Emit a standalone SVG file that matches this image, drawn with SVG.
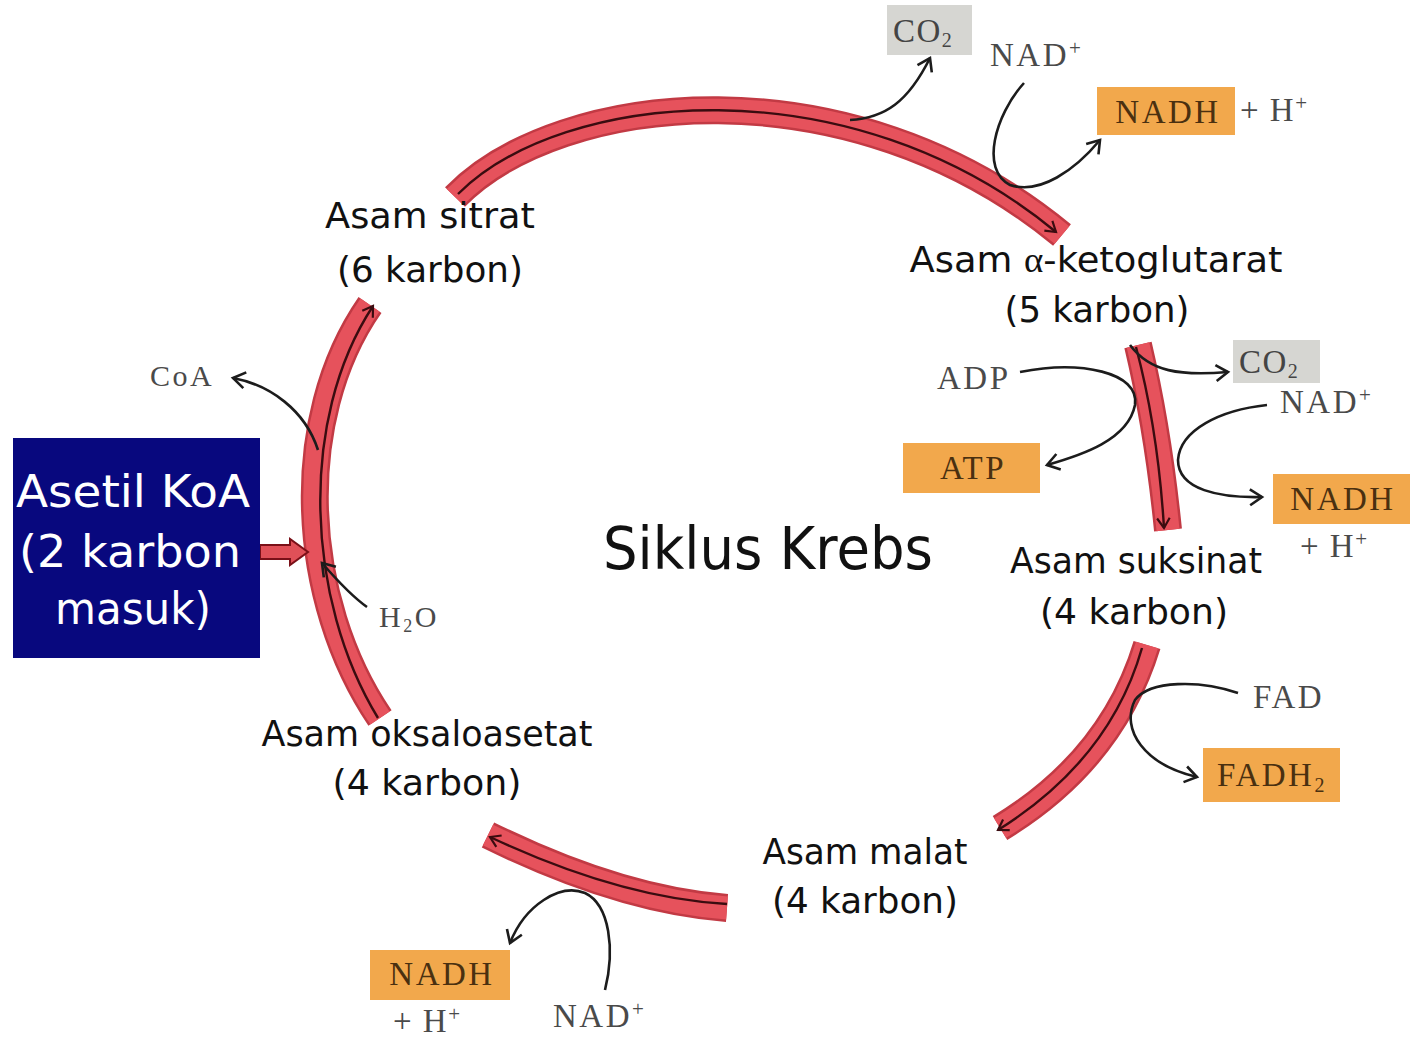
<svg xmlns="http://www.w3.org/2000/svg" width="1412" height="1040" viewBox="0 0 1412 1040">
<style>
.lbl{font-family:"DejaVu Sans","Open Sans",sans-serif;font-size:35px;fill:#111;text-anchor:middle}
.ser{font-family:"Liberation Serif","DejaVu Serif",serif;font-size:33px;fill:#4a4a4a;letter-spacing:2.5px}
.box{font-family:"Liberation Serif","DejaVu Serif",serif;font-size:33px;fill:#4a3010;text-anchor:middle;letter-spacing:2.5px}
.or{fill:#f2a84c}
.gr{fill:#d6d6d2}
.rxn{fill:none;stroke:#1c1c1c;stroke-width:2.6;marker-end:url(#ah)}
.bandO{fill:none;stroke:#c23a44;stroke-width:28}
.bandI{fill:none;stroke:#e6525c;stroke-width:23}
.core{fill:none;stroke:#3a0c10;stroke-width:2.4;marker-end:url(#ah2)}
</style>
<defs>
<marker id="ah" viewBox="0 0 20 20" refX="17" refY="10" markerWidth="20" markerHeight="20" markerUnits="userSpaceOnUse" orient="auto">
<path d="M5,2 L17,10 L5,18" fill="none" stroke="#1c1c1c" stroke-width="2.6"/>
</marker>
<marker id="ah2" viewBox="0 0 20 20" refX="17" refY="10" markerWidth="18" markerHeight="18" markerUnits="userSpaceOnUse" orient="auto">
<path d="M6,3 L17,10 L6,17" fill="none" stroke="#3a0c10" stroke-width="2.4"/>
</marker>
</defs>
<rect width="1412" height="1040" fill="#ffffff"/>

<g id="connectors">
  <g id="ring">
    <path class="bandO" d="M455 197 C560 90 850 60 1062 235"/>
    <path class="bandI" d="M455 197 C560 90 850 60 1062 235"/>
    <path class="core" d="M458 194 C562 90 850 62 1056 232"/>
    <path class="bandO" d="M1138 345 Q1158 430 1168 530"/>
    <path class="bandI" d="M1138 345 Q1158 430 1168 530"/>
    <path class="core" d="M1136 347 Q1158 430 1164 528"/>
    <path class="bandO" d="M1147 645 Q1112 760 1000 828"/>
    <path class="bandI" d="M1147 645 Q1112 760 1000 828"/>
    <path class="core" d="M1142 648 Q1110 760 998 830"/>
    <path class="bandO" d="M727 908 Q620 900 488 835"/>
    <path class="bandI" d="M727 908 Q620 900 488 835"/>
    <path class="core" d="M727 904 Q620 898 490 837"/>
    <path class="bandO" d="M380 718 C300 600 290 420 370 305"/>
    <path class="bandI" d="M380 718 C300 600 290 420 370 305"/>
    <path class="core" d="M378 718 C306 600 298 420 373 306"/>
  </g>
  <path id="entry" d="M260 545 L290 545 L290 539 L308 552 L290 565 L290 559 L260 559 Z" fill="#e05058" stroke="#7a1018" stroke-width="2"/>
  <path class="rxn" d="M850 120 C885 118 908 102 930 58"/>
  <path class="rxn" d="M1024 83 C995 115 980 170 1010 185 C1040 195 1075 170 1100 140"/>
  <path class="rxn" d="M1130 345 C1150 372 1180 376 1228 372"/>
  <path class="rxn" d="M1020 372 C1080 360 1140 372 1135 405 C1128 440 1082 455 1047 465"/>
  <path class="rxn" d="M1267 405 C1220 410 1180 430 1178 460 C1178 490 1220 498 1262 497"/>
  <path class="rxn" d="M1238 693 C1200 680 1150 680 1135 700 C1120 730 1145 765 1197 777"/>
  <path class="rxn" d="M605 990 C615 950 610 905 585 893 C560 883 525 905 510 943"/>
  <path class="rxn" d="M318 450 C305 410 270 385 233 378"/>
  <path class="rxn" d="M367 607 C350 595 335 578 322 563"/>
</g>

<g id="asetil-koa">
  <rect x="13" y="438" width="247" height="220" fill="#08087e"/>
  <text x="133" y="507" font-family="DejaVu Sans,sans-serif" font-size="44" fill="#fff" text-anchor="middle" textLength="234" lengthAdjust="spacingAndGlyphs">Asetil KoA</text>
  <text x="130" y="567" font-family="DejaVu Sans,sans-serif" font-size="44" fill="#fff" text-anchor="middle" textLength="222" lengthAdjust="spacingAndGlyphs">(2 karbon</text>
  <text x="133" y="624" font-family="DejaVu Sans,sans-serif" font-size="44" fill="#fff" text-anchor="middle" textLength="156" lengthAdjust="spacingAndGlyphs">masuk)</text>
</g>

<g id="title"><text x="768" y="569" font-family="DejaVu Sans,sans-serif" font-size="58" fill="#111" text-anchor="middle" textLength="330" lengthAdjust="spacingAndGlyphs">Siklus Krebs</text></g>

<g id="sitrat">
  <text class="lbl" x="430" y="228" textLength="210" lengthAdjust="spacingAndGlyphs">Asam sitrat</text>
  <text class="lbl" x="430" y="282" textLength="186" lengthAdjust="spacingAndGlyphs">(6 karbon)</text>
</g>
<g id="ketoglutarat">
  <text class="lbl" x="1096" y="272" textLength="373" lengthAdjust="spacingAndGlyphs">Asam <tspan font-family="Liberation Serif,serif">α</tspan>-ketoglutarat</text>
  <text class="lbl" x="1097" y="322" textLength="185" lengthAdjust="spacingAndGlyphs">(5 karbon)</text>
</g>
<g id="suksinat">
  <text class="lbl" x="1136" y="573" textLength="252" lengthAdjust="spacingAndGlyphs">Asam suksinat</text>
  <text class="lbl" x="1134" y="624" textLength="188" lengthAdjust="spacingAndGlyphs">(4 karbon)</text>
</g>
<g id="malat">
  <text class="lbl" x="865" y="864" textLength="205" lengthAdjust="spacingAndGlyphs">Asam malat</text>
  <text class="lbl" x="865" y="913" textLength="186" lengthAdjust="spacingAndGlyphs">(4 karbon)</text>
</g>
<g id="oksaloasetat">
  <text class="lbl" x="427" y="746" textLength="331" lengthAdjust="spacingAndGlyphs">Asam oksaloasetat</text>
  <text class="lbl" x="427" y="795" textLength="189" lengthAdjust="spacingAndGlyphs">(4 karbon)</text>
</g>

<g id="co2-top"><rect class="gr" x="887" y="5" width="85" height="50"/><text class="ser" x="893" y="42" style="fill:#444;letter-spacing:1.5px">CO<tspan font-size="20" dy="5">2</tspan></text></g>
<g id="nad-top"><text class="ser" x="990" y="66">NAD<tspan font-size="21" dy="-11">+</tspan></text></g>
<g id="nadh-top"><rect class="or" x="1097" y="87" width="138" height="48"/><text class="box" x="1168" y="123">NADH</text><text class="ser" x="1240" y="121" style="letter-spacing:1.5px">+ H<tspan font-size="21" dy="-11">+</tspan></text></g>
<g id="co2-right"><rect class="gr" x="1233" y="340" width="87" height="43"/><text class="ser" x="1239" y="373" style="fill:#444;letter-spacing:1.5px">CO<tspan font-size="20" dy="5">2</tspan></text></g>
<g id="nad-right"><text class="ser" x="1280" y="413">NAD<tspan font-size="21" dy="-11">+</tspan></text></g>
<g id="adp"><text class="ser" x="937" y="389">ADP</text></g>
<g id="atp"><rect class="or" x="903" y="443" width="137" height="50"/><text class="box" x="973" y="479">ATP</text></g>
<g id="nadh-right"><rect class="or" x="1273" y="474" width="137" height="50"/><text class="box" x="1343" y="510">NADH</text><text class="ser" x="1300" y="557" style="letter-spacing:1.5px">+ H<tspan font-size="21" dy="-11">+</tspan></text></g>
<g id="fad"><text class="ser" x="1253" y="708">FAD</text></g>
<g id="fadh2"><rect class="or" x="1203" y="748" width="137" height="54"/><text class="box" x="1272" y="786">FADH<tspan font-size="20" dy="6">2</tspan></text></g>
<g id="nadh-bottom"><rect class="or" x="370" y="950" width="140" height="50"/><text class="box" x="442" y="985">NADH</text><text class="ser" x="393" y="1032" style="letter-spacing:1.5px">+ H<tspan font-size="21" dy="-11">+</tspan></text></g>
<g id="nad-bottom"><text class="ser" x="553" y="1027">NAD<tspan font-size="21" dy="-11">+</tspan></text></g>
<g id="coa"><text class="ser" x="150" y="386" style="font-size:30px">CoA</text></g>
<g id="h2o"><text class="ser" x="379" y="627" style="font-size:30px">H<tspan font-size="18" dy="5">2</tspan><tspan dy="-5">O</tspan></text></g>
</svg>
